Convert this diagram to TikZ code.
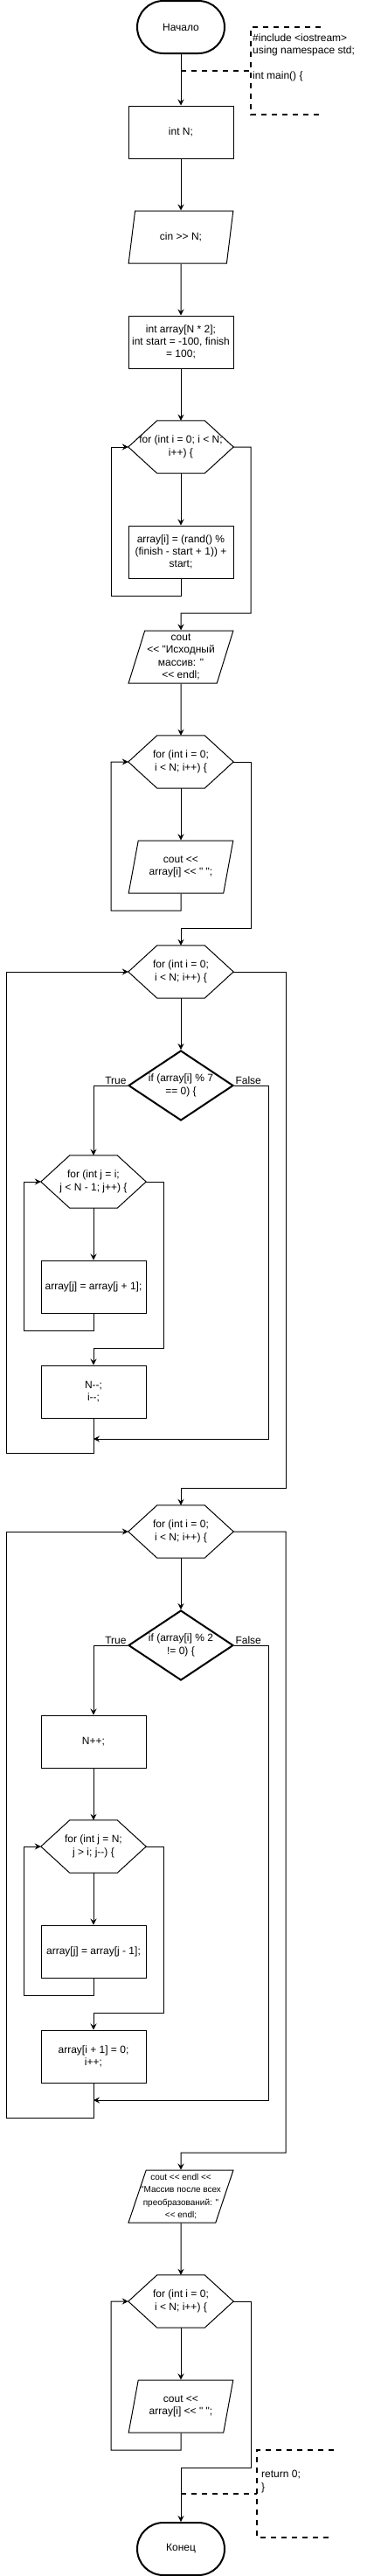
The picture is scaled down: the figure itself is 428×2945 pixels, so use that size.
\documentclass[tikz,border=0pt]{standalone}
\usepackage{fontspec}
\setmainfont{Liberation Sans}[Ligatures=TeXOff]
\usetikzlibrary{shapes.geometric,arrows.meta}

\tikzset{
    base/.style={font=\fontsize{12}{14.4}\selectfont, align=center, inner sep=0pt},
    term/.style={base, draw, line width=2pt, rounded corners=30pt, minimum width=100pt, minimum height=60pt},
    proc/.style={base, draw, line width=1pt, minimum width=120pt, minimum height=60pt},
    io/.style={base, draw, line width=1pt, trapezium, trapezium left angle=71.57, trapezium right angle=108.43,
        trapezium stretches=true, minimum width=120pt, minimum height=60pt},
    loophex/.style={base, minimum width=120pt, minimum height=60pt},
    cond/.style={base, draw, diamond, aspect=1.5, line width=2pt, minimum width=120pt, minimum height=80pt},
    line/.style={line width=1pt},
    arr/.style={line, -{Stealth[length=7pt,width=7pt,inset=2.5pt]}},
    note/.style={line width=2pt, dash pattern=on 6pt off 6pt},
    lbl/.style={font=\fontsize{12}{14.4}\selectfont, inner sep=1pt},
}

% hexagon frame round a loop node
\newcommand{\hexframe}[1]{%
    \draw[line] (#1.west) -- ([xshift=33pt]#1.north west) -- ([xshift=-33pt]#1.north east)
        -- (#1.east) -- ([xshift=-33pt]#1.south east) -- ([xshift=33pt]#1.south west) -- cycle;}

\begin{document}
\begin{tikzpicture}[x=1pt,y=-1pt]
    \useasboundingbox (0,0) rectangle (428,2945);

    % main line
    \node[term] (start) at (207,31) {Начало};
    \node[proc] (n1) at (207,151) {int N;};
    \node[io] (cin) at (207,271) {cin >> N;};
    \node[proc] (arr) at (207,391) {int array[N * 2];\\int start = -100, finish\\= 100;};
    \node[loophex] (for1) at (207,511) {for (int i = 0; i < N;\\i++) \{};
    \node[proc] (rnd) at (207,631) {array[i] = (rand() \%\\(finish - start + 1)) +\\start;};
    \node[io] (out1) at (207,751) {cout\\<< "Исходный\\массив: "\\<< endl;};
    \node[loophex] (for2) at (207,871) {for (int i = 0;\\i < N; i++) \{};
    \node[io] (out2) at (207,991) {cout <<\\array[i] << " ";};
    \node[loophex] (for3) at (207,1111) {for (int i = 0;\\i < N; i++) \{};
    \node[cond] (if1) at (207,1241) {if (array[i] \% 7\\== 0) \{};
    \node[loophex] (for4) at (107,1351) {for (int j = i;\\j < N - 1; j++) \{};
    \node[proc] (sh1) at (107,1471) {array[j] = array[j + 1];};
    \node[proc] (dec) at (107,1591) {N--;\\i--;};
    \node[loophex] (for5) at (207,1751) {for (int i = 0;\\i < N; i++) \{};
    \node[cond] (if2) at (207,1881) {if (array[i] \% 2\\!= 0) \{};
    \node[proc] (inc) at (107,1991) {N++;};
    \node[loophex] (for6) at (107,2111) {for (int j = N;\\j > i; j--) \{};
    \node[proc] (sh2) at (107,2231) {array[j] = array[j - 1];};
    \node[proc] (zer) at (107,2351) {array[i + 1] = 0;\\i++;};
    \node[io, font=\fontsize{10}{14.4}\selectfont, inner xsep=-12pt] (out3) at (207,2511) {cout << endl <<\\"Массив после всех\\преобразований: "\\<< endl;};
    \node[loophex] (for7) at (207,2631) {for (int i = 0;\\i < N; i++) \{};
    \node[io] (out4) at (207,2751) {cout <<\\array[i] << " ";};
    \node[term] (stop) at (207,2914) {Конец};

    \foreach \h in {for1,for2,for3,for4,for5,for6,for7}
        \hexframe{\h};

    % merge points
    \coordinate (m1) at (107,1645);
    \coordinate (m2) at (107,2401);

    \draw[arr] (start) -- (n1);
    \draw[arr] (n1) -- (cin);
    \draw[arr] (cin) -- (arr);
    \draw[arr] (arr) -- (for1);

    % loop 1
    \draw[arr] (for1) -- (rnd);
    \draw[arr] (rnd.south) -- (207,681) -- (127,681) |- (for1.west);
    \draw[arr] (for1.east) -| (287,701) -- (207,701) -- (out1.north);
    \draw[arr] (out1) -- (for2);

    % loop 2
    \draw[arr] (for2) -- (out2);
    \draw[arr] (out2.south) -- (207,1041) -- (127,1041) |- (for2.west);
    \draw[arr] (for2.east) -| (287,1061) -- (207,1061) -- (for3.north);

    % loop 3
    \draw[arr] (for3) -- (if1);
    \draw[arr] (if1.west) node[lbl, anchor=south east] {True} -| (for4.north);
    \draw[arr] (if1.east) node[lbl, anchor=south west] {False} -| (307,1645) -- (m1);
    \draw[arr] (for4) -- (sh1);
    \draw[arr] (sh1.south) -- (107,1521) -- (27,1521) |- (for4.west);
    \draw[arr] (for4.east) -| (187,1541) -- (107,1541) -- (dec.north);
    \draw[arr] (dec.south) -- (107,1661) -- (7,1661) |- (for3.west);
    \draw[arr] (for3.east) -| (327,1701) -- (207,1701) -- (for5.north);

    % loop 5
    \draw[arr] (for5) -- (if2);
    \draw[arr] (if2.west) node[lbl, anchor=south east] {True} -| (inc.north);
    \draw[arr] (if2.east) node[lbl, anchor=south west] {False} -| (307,2401) -- (m2);
    \draw[arr] (inc) -- (for6);
    \draw[arr] (for6) -- (sh2);
    \draw[arr] (sh2.south) -- (107,2281) -- (27,2281) |- (for6.west);
    \draw[arr] (for6.east) -| (187,2301) -- (107,2301) -- (zer.north);
    \draw[arr] (zer.south) -- (107,2421) -- (7,2421) |- (for5.west);
    \draw[arr] (for5.east) -| (327,2461) -- (207,2461) -- (out3.north);

    % output
    \draw[arr] (out3) -- (for7);
    \draw[arr] (for7) -- (out4);
    \draw[arr] (out4.south) -- (207,2801) -- (127,2801) |- (for7.west);
    \draw[arr] (for7.east) -| (287,2821) -- (207,2821) -- (stop.north);

    % comments
    \node[base, anchor=west, align=left] (incl) at (289,66) {\#include <iostream>\\using namespace std;\\[14.4pt]int main() \{};
    \draw[note] (367,31) -- (287,31) -- (287,131) -- (366,131);
    \coordinate (c1) at (207,81);
    \coordinate (c2) at (287,81);
    \draw[note] (c1) -- (c2);

    \node[base, anchor=west, align=left] (ret) at (299,2837) {return 0;\\\}};
    \draw[note] (382,2801) -- (294,2801) -- (294,2901) -- (378,2901);
    \coordinate (c3) at (207,2851);
    \coordinate (c4) at (294,2851);
    \draw[note] (c3) -- (c4);
\end{tikzpicture}
\end{document}
